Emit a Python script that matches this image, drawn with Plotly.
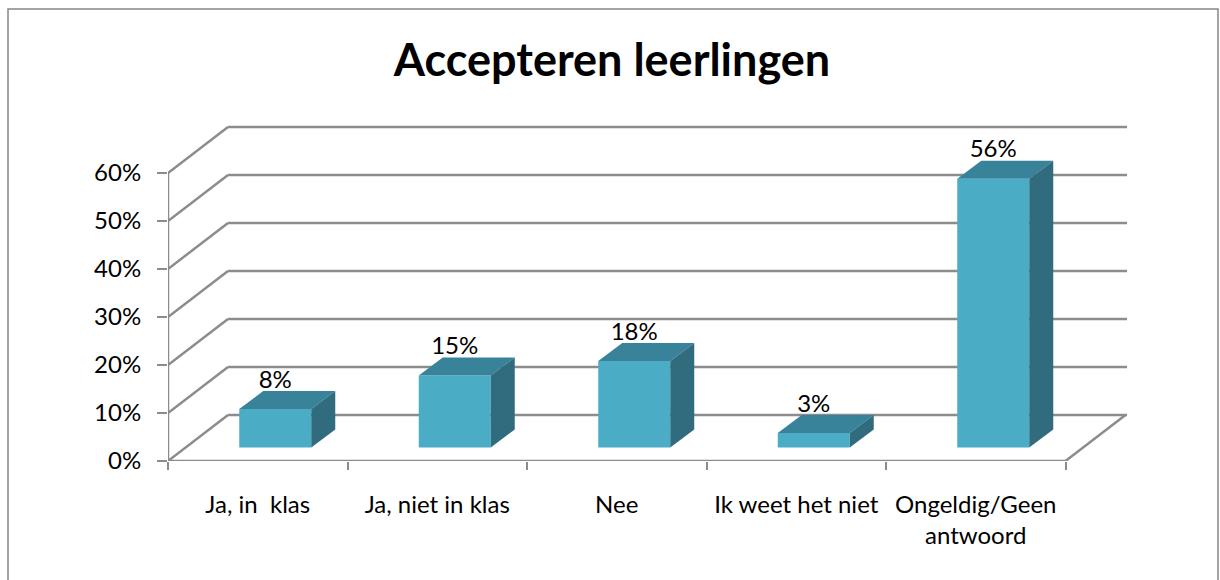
import plotly.graph_objects as go

title = "Accepteren leerlingen"
categories = ["Ja, in  klas", "Ja, niet in klas", "Nee", "Ik weet het niet", "Ongeldig/Geen<br>antwoord"]
values = [8, 15, 18, 3, 56]
labels = ["8%", "15%", "18%", "3%", "56%"]
y_ticks = [0, 10, 20, 30, 40, 50, 60]

FONT = "Lato, Carlito, Calibri, sans-serif"
GRID = "#8c8c8c"
FRONT, TOP, SIDE = "#4bacc6", "#38839a", "#306c7e"
TEXT_SIZE = 24

# Plot-area geometry of the slanted "3D" view
W, H = 1220, 580
L, R, T, B = 168, 1127, 120, 461
BAND = 179.5            # px per category
UNIT = 4.8              # px per percentage point
WALL_DX = 60 / BAND     # wall depth, in x units
WALL_DY = 46 / UNIT     # wall depth, in y units
BAR_W = 72 / BAND
BAR_DX = 24 / BAND
BAR_DY = 18 / UNIT
BAR_SHIFT = 17.5 / BAND
BAR_BASE = 13.5 / UNIT
LABEL_UP = 27.5 / UNIT

n = len(categories)
x_max = (R - L) / BAND
y_max = (B - T) / UNIT

fig = go.Figure()

# Front faces
centers = [i + 0.5 + BAR_SHIFT for i in range(n)]
fig.add_trace(go.Bar(x=centers, y=values, base=[BAR_BASE] * n, width=BAR_W,
                     marker=dict(color=FRONT, line=dict(width=0)),
                     xaxis="x", yaxis="y", showlegend=False, hoverinfo="skip"))

# Top and side faces
for c, v in zip(centers, values):
    x0, x1 = c - BAR_W / 2, c + BAR_W / 2
    y0, y1 = BAR_BASE, BAR_BASE + v
    fig.add_trace(go.Scatter(
        x=[x0, x1, x1 + BAR_DX, x0 + BAR_DX, x0],
        y=[y1, y1, y1 + BAR_DY, y1 + BAR_DY, y1],
        mode="lines", line=dict(width=0), fill="toself", fillcolor=TOP,
        showlegend=False, hoverinfo="skip"))
    fig.add_trace(go.Scatter(
        x=[x1, x1 + BAR_DX, x1 + BAR_DX, x1, x1],
        y=[y0, y0 + BAR_DY, y1 + BAR_DY, y1, y0],
        mode="lines", line=dict(width=0), fill="toself", fillcolor=SIDE,
        showlegend=False, hoverinfo="skip"))

# Data labels
fig.add_trace(go.Scatter(
    x=centers, y=[BAR_BASE + v + LABEL_UP for v in values],
    mode="text", text=labels, textposition="middle center",
    textfont=dict(family=FONT, size=TEXT_SIZE, color="#000000"),
    showlegend=False, hoverinfo="skip", cliponaxis=False))

# Invisible trace that activates the category-label axis
fig.add_trace(go.Scatter(x=[0.5], y=[0], xaxis="x2", yaxis="y", mode="markers",
                         marker=dict(opacity=0), showlegend=False, hoverinfo="skip"))

shapes = []
line = dict(color=GRID, width=2.5)
for t in y_ticks:
    shapes.append(dict(type="line", layer="below", xref="x", yref="y", x0=0, y0=t,
                       x1=WALL_DX, y1=t + WALL_DY, line=line))
    shapes.append(dict(type="line", layer="below", xref="x", yref="y", x0=WALL_DX, y0=t + WALL_DY,
                       x1=x_max, y1=t + WALL_DY, line=line))
# Front edge and right edge of the floor
shapes.append(dict(type="line", layer="below", xref="x", yref="y", x0=0, y0=0, x1=n, y1=0, line=line))
shapes.append(dict(type="line", layer="below", xref="x", yref="y", x0=n, y0=0,
                   x1=n + WALL_DX, y1=WALL_DY, line=line))
# Left axis line only up to the top tick
shapes.append(dict(type="line", layer="below", xref="x", yref="y", x0=0, x1=0, y0=0, y1=y_ticks[-1], line=line))
# Outer chart frame (open at the bottom, running past the page edge)
px = lambda p: (p - L) / (R - L)
py = lambda p: (B - p) / (B - T)
shapes.append(dict(type="rect", layer="below", xref="paper", yref="paper",
                   x0=px(8), x1=px(1218), y0=py(640), y1=py(9),
                   line=dict(color="#868686", width=1.5), fillcolor="rgba(0,0,0,0)"))

fig.update_layout(
    width=W, height=H, autosize=False,
    margin=dict(l=L, r=W - R, t=T, b=H - B, pad=0),
    paper_bgcolor="white", plot_bgcolor="rgba(0,0,0,0)",
    showlegend=False, shapes=shapes,
    font=dict(family=FONT, size=TEXT_SIZE, color="#000000"),
    title=dict(text=f"<b>{title}</b>", font=dict(family=FONT, size=45, color="#000000"),
               x=612 / W, xanchor="center", xref="container",
               y=1 - 60 / H, yanchor="middle", yref="container"),
    xaxis=dict(range=[0, x_max], tickmode="array", tickvals=list(range(n + 1)),
               ticktext=[""] * (n + 1), ticks="outside", ticklen=8, tickwidth=2, tickcolor=GRID,
               showgrid=False, zeroline=False, showline=False),
    xaxis2=dict(range=[0, x_max], overlaying="x", anchor="y", side="bottom",
                tickmode="array", tickvals=[i + 0.5 for i in range(n)], ticktext=categories,
                ticks="outside", ticklen=22, tickwidth=0, tickcolor="rgba(0,0,0,0)",
                showgrid=False, zeroline=False, showline=False,
                tickfont=dict(family=FONT, size=TEXT_SIZE, color="#000000")),
    yaxis=dict(range=[0, y_max], tickmode="array", tickvals=y_ticks,
               ticktext=[f"{t}%" for t in y_ticks], ticks="outside", ticklen=10, tickwidth=2,
               tickcolor=GRID, ticklabelstandoff=11,
               showgrid=False, zeroline=False, showline=False,
               tickfont=dict(family=FONT, size=TEXT_SIZE, color="#000000")),
)

fig.write_html("out.html", post_script="document.body.style.margin='0';", config={"displayModeBar": False})
